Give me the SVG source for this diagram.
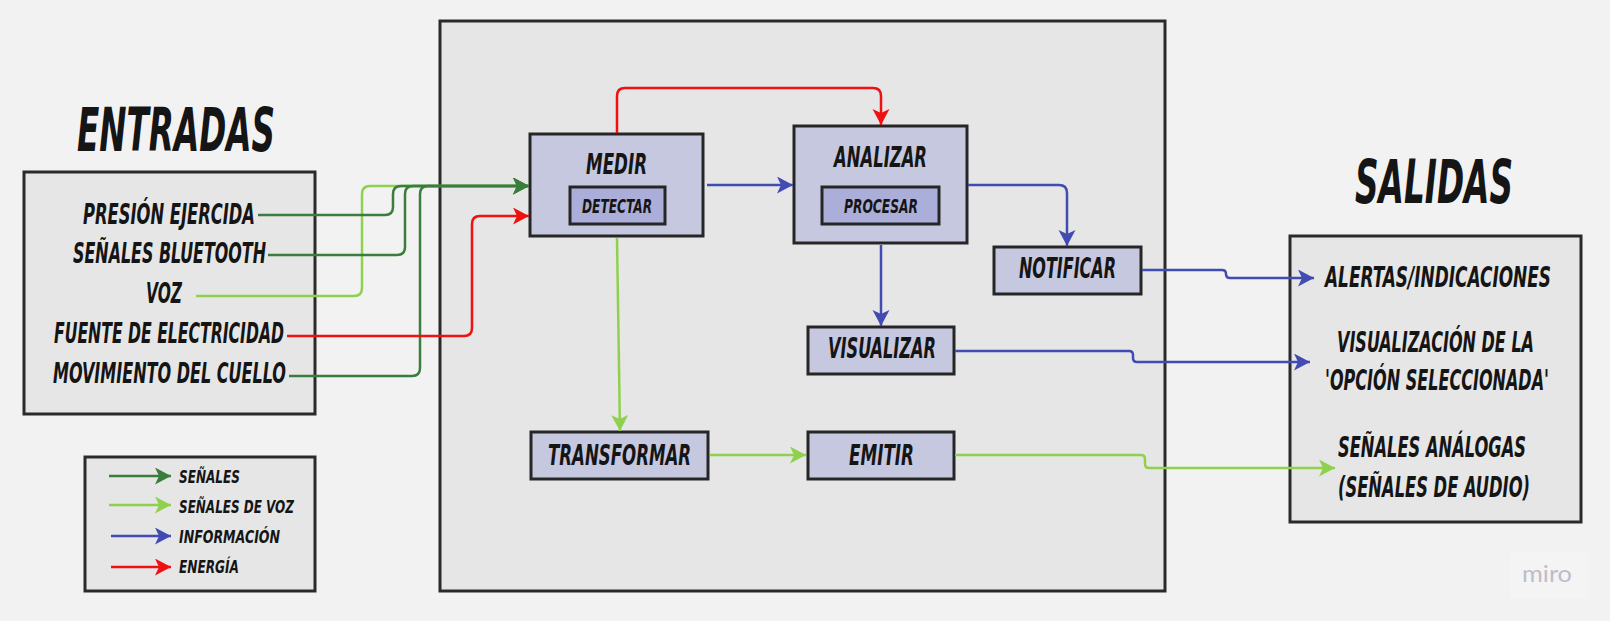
<svg xmlns="http://www.w3.org/2000/svg" width="1610" height="621" viewBox="0 0 1610 621">
<style>
.t{font-family:"Liberation Sans Narrow","DejaVu Sans Condensed","Liberation Sans",sans-serif;font-weight:bold;font-style:italic;fill:#151515}
.m{text-anchor:middle}
.big{font-size:41.5px}
.lbl{font-size:19.3px}
.sm{font-size:13.8px}
.lg{font-size:11.7px}
.panel{fill:#e6e6e6;stroke:#2a2a2a;stroke-width:3}
.node{fill:#c6c8df;stroke:#262626;stroke-width:3}
.inner{fill:#aaaed8;stroke:#262626;stroke-width:3}
.c{fill:none;stroke-width:2.5;stroke-linejoin:round}
.dg{stroke:#3b7d3c}.lgr{stroke:#8fd14f}.bl{stroke:#414bb2}.rd{stroke:#f01010}
</style>
<defs>
<marker id="aDG" markerUnits="userSpaceOnUse" markerWidth="17" markerHeight="18" refX="16" refY="8.5" orient="auto" viewBox="0 0 17 18"><path d="M0,0 L16,8.5 L0,17 L4,8.5 z" fill="#3b7d3c"/></marker>
<marker id="aLG" markerUnits="userSpaceOnUse" markerWidth="17" markerHeight="18" refX="16" refY="8.5" orient="auto" viewBox="0 0 17 18"><path d="M0,0 L16,8.5 L0,17 L4,8.5 z" fill="#8fd14f"/></marker>
<marker id="aBL" markerUnits="userSpaceOnUse" markerWidth="17" markerHeight="18" refX="16" refY="8.5" orient="auto" viewBox="0 0 17 18"><path d="M0,0 L16,8.5 L0,17 L4,8.5 z" fill="#414bb2"/></marker>
<marker id="aRD" markerUnits="userSpaceOnUse" markerWidth="17" markerHeight="18" refX="16" refY="8.5" orient="auto" viewBox="0 0 17 18"><path d="M0,0 L16,8.5 L0,17 L4,8.5 z" fill="#f01010"/></marker>
</defs>
<rect x="0" y="0" width="1610" height="621" fill="#f2f2f2"/>

<g id="sistema"><rect class="panel" x="440" y="21" width="725" height="570" stroke-width="2.5"/></g>

<g id="titulo-entradas"><text class="t m big" transform="translate(176 151) scale(1 1.45)" textLength="198" lengthAdjust="spacingAndGlyphs">ENTRADAS</text></g>
<g id="titulo-salidas"><text class="t m big" transform="translate(1434 203) scale(1 1.45)" textLength="158" lengthAdjust="spacingAndGlyphs">SALIDAS</text></g>

<g id="entradas">
<rect class="panel" x="24" y="172" width="291" height="242"/>
<text class="t m lbl" transform="translate(169 224) scale(1 1.45)" textLength="172" lengthAdjust="spacingAndGlyphs">PRESIÓN EJERCIDA</text>
<text class="t m lbl" transform="translate(169.5 263) scale(1 1.45)" textLength="193" lengthAdjust="spacingAndGlyphs">SEÑALES BLUETOOTH</text>
<text class="t m lbl" transform="translate(164 303) scale(1 1.45)" textLength="36" lengthAdjust="spacingAndGlyphs">VOZ</text>
<text class="t m lbl" transform="translate(169 343) scale(1 1.45)" textLength="230" lengthAdjust="spacingAndGlyphs">FUENTE DE ELECTRICIDAD</text>
<text class="t m lbl" transform="translate(169.5 383) scale(1 1.45)" textLength="233" lengthAdjust="spacingAndGlyphs">MOVIMIENTO DEL CUELLO</text>
</g>

<g id="salidas">
<rect class="panel" x="1290" y="236" width="291" height="286"/>
<text class="t m lbl" transform="translate(1438 287) scale(1 1.45)" textLength="226" lengthAdjust="spacingAndGlyphs">ALERTAS/INDICACIONES</text>
<text class="t m lbl" transform="translate(1435.5 352) scale(1 1.45)" textLength="197" lengthAdjust="spacingAndGlyphs">VISUALIZACIÓN DE LA</text>
<text class="t m lbl" transform="translate(1437 390) scale(1 1.45)" textLength="224" lengthAdjust="spacingAndGlyphs">'OPCIÓN SELECCIONADA'</text>
<text class="t m lbl" transform="translate(1432 457) scale(1 1.45)" textLength="188" lengthAdjust="spacingAndGlyphs">SEÑALES ANÁLOGAS</text>
<text class="t m lbl" transform="translate(1434 497) scale(1 1.45)" textLength="192" lengthAdjust="spacingAndGlyphs">(SEÑALES DE AUDIO)</text>
</g>

<g id="medir">
<rect class="node" x="530" y="134" width="173" height="102"/>
<text class="t m lbl" transform="translate(616.5 174) scale(1 1.45)" textLength="61" lengthAdjust="spacingAndGlyphs">MEDIR</text>
<rect class="inner" x="570" y="187" width="95" height="37"/>
<text class="t m sm" transform="translate(617 213) scale(1 1.45)" textLength="70" lengthAdjust="spacingAndGlyphs">DETECTAR</text>
</g>

<g id="analizar">
<rect class="node" x="794" y="126" width="173" height="117"/>
<text class="t m lbl" transform="translate(880.5 167) scale(1 1.45)" textLength="93" lengthAdjust="spacingAndGlyphs">ANALIZAR</text>
<rect class="inner" x="822" y="187" width="117" height="37"/>
<text class="t m sm" transform="translate(881 213) scale(1 1.45)" textLength="74" lengthAdjust="spacingAndGlyphs">PROCESAR</text>
</g>

<g id="notificar">
<rect class="node" x="994" y="247" width="147" height="47"/>
<text class="t m lbl" transform="translate(1067.5 278) scale(1 1.45)" textLength="97" lengthAdjust="spacingAndGlyphs">NOTIFICAR</text>
</g>

<g id="visualizar">
<rect class="node" x="808" y="327" width="146" height="47"/>
<text class="t m lbl" transform="translate(882 358) scale(1 1.45)" textLength="108" lengthAdjust="spacingAndGlyphs">VISUALIZAR</text>
</g>

<g id="transformar">
<rect class="node" x="531" y="432" width="177" height="47"/>
<text class="t m lbl" transform="translate(619.5 465) scale(1 1.45)" textLength="143" lengthAdjust="spacingAndGlyphs">TRANSFORMAR</text>
</g>

<g id="emitir">
<rect class="node" x="808" y="432" width="146" height="47"/>
<text class="t m lbl" transform="translate(881.5 465) scale(1 1.45)" textLength="65" lengthAdjust="spacingAndGlyphs">EMITIR</text>
</g>

<g id="conectores">
<path class="c lgr" d="M196,296 H354 q8,0 8,-8 V194 q0,-8 8,-8 H529" marker-end="url(#aLG)"/>
<path class="c dg" d="M258,215 H385 q8,0 8,-8 V194 q0,-8 8,-8 H529" marker-end="url(#aDG)"/>
<path class="c dg" d="M268,255 H397 q8,0 8,-8 V194 q0,-8 8,-8 H529" marker-end="url(#aDG)"/>
<path class="c dg" d="M289,376 H412 q8,0 8,-8 V194 q0,-8 8,-8 H529" marker-end="url(#aDG)"/>
<path class="c rd" d="M287,336 H464 q8,0 8,-8 V224 q0,-8 8,-8 H529" marker-end="url(#aRD)"/>
<path class="c rd" d="M617,133 V96 q0,-8 8,-8 H873 q8,0 8,8 V125" marker-end="url(#aRD)"/>
<path class="c bl" d="M707,185 H793" marker-end="url(#aBL)"/>
<path class="c lgr" d="M617,238 L620,431" marker-end="url(#aLG)"/>
<path class="c bl" d="M968,185 H1059 q8,0 8,8 V246" marker-end="url(#aBL)"/>
<path class="c bl" d="M881,245 V326" marker-end="url(#aBL)"/>
<path class="c bl" d="M1142,270 H1222 q4,0 4,4 V274 q0,4 4,4 H1314" marker-end="url(#aBL)"/>
<path class="c bl" d="M955,351 H1129 q4,0 4,4 V358 q0,4 4,4 H1310" marker-end="url(#aBL)"/>
<path class="c lgr" d="M955,455 H1141 q4,0 4,4 V464 q0,4 4,4 H1335" marker-end="url(#aLG)"/>
<path class="c lgr" d="M710,455 H806" marker-end="url(#aLG)"/>
</g>

<g id="leyenda">
<rect class="panel" x="85" y="457" width="230" height="134"/>
<path class="c dg" d="M109,476 H171" marker-end="url(#aDG)"/>
<path class="c lgr" d="M109,505 H171" marker-end="url(#aLG)"/>
<path class="c bl" d="M111,536 H171" marker-end="url(#aBL)"/>
<path class="c rd" d="M111,567 H171" marker-end="url(#aRD)"/>
<text class="t lg" transform="translate(179 483) scale(1 1.45)" textLength="61" lengthAdjust="spacingAndGlyphs">SEÑALES</text>
<text class="t lg" transform="translate(179 513) scale(1 1.45)" textLength="115" lengthAdjust="spacingAndGlyphs">SEÑALES DE VOZ</text>
<text class="t lg" transform="translate(179 543) scale(1 1.45)" textLength="101" lengthAdjust="spacingAndGlyphs">INFORMACIÓN</text>
<text class="t lg" transform="translate(179 573) scale(1 1.45)" textLength="60" lengthAdjust="spacingAndGlyphs">ENERGÍA</text>
</g>

<g id="marca">
<rect x="1510" y="553" width="78" height="45" rx="3" fill="#f4f4f4"/>
<text x="1547" y="582" text-anchor="middle" font-family="Lato, 'Open Sans', sans-serif" font-size="23" fill="#bcbdc9" textLength="50" lengthAdjust="spacingAndGlyphs">miro</text>
</g>
</svg>
